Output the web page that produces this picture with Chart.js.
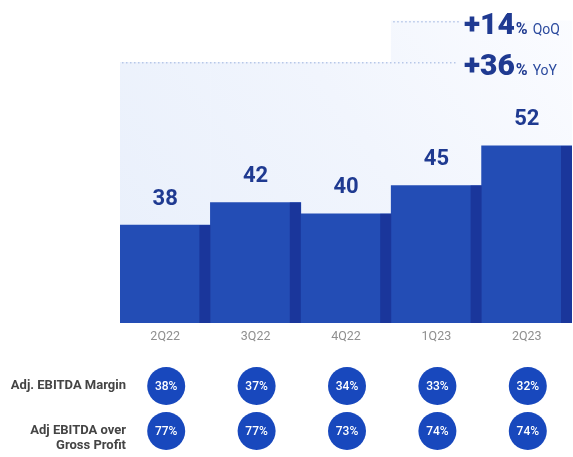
<!DOCTYPE html>
<html>
<head>
<meta charset="utf-8">
<script src="https://cdn.jsdelivr.net/npm/chart.js@4.4.1/dist/chart.umd.min.js"></script>
<style>
  html, body { margin: 0; padding: 0; background: #fff; }
  #wrap { width: 573px; height: 457px; }
</style>
</head>
<body>
<div id="wrap"><canvas id="ebitdaChart" width="573" height="457"></canvas></div>
<script>
// Adj. EBITDA by quarter
const quarters = ["2Q22", "3Q22", "4Q22", "1Q23", "2Q23"];
const adjEbitda = [38, 42, 40, 45, 52];
const ebitdaMargin = [38, 37, 34, 33, 32];
const ebitdaOverGross = [77, 77, 73, 74, 74];
// light backdrop behind the bars (same units as the bars)
const backdropLevel = [66.8, 66.8, 66.8, 74.1, 74.1];
const growthNotes = [
    { value: "+14", unit: "QoQ", level: 74.1 },
    { value: "+36", unit: "YoY", level: 66.8 }
];
const rowLabels = [["Adj. EBITDA Margin"], ["Adj EBITDA over", "Gross Profit"]];

const navy = "#1f3a91";
const barBlue = "#234db5";
const stripBlue = "#1a369b";
const dotBlue = "#1848bd";
const FONT = "Roboto, 'Noto Sans', sans-serif";

function backdropFill(context) {
    const chart = context.chart;
    const area = chart.chartArea;
    if (!area) return "#eef3fc";
    const g = chart.ctx.createLinearGradient(area.left, area.bottom, area.right, area.top);
    g.addColorStop(0, "#e8effb");
    g.addColorStop(0.55, "#f1f5fd");
    g.addColorStop(1, "#fbfcff");
    return g;
}

const decorPlugin = {
    id: "decor",
    afterDatasetsDraw(chart) {
        const ctx = chart.ctx;
        const x = chart.scales.x;
        const y = chart.scales.y;
        const area = chart.chartArea;
        const bars = chart.getDatasetMeta(1).data;
        const backs = chart.getDatasetMeta(0).data;

        ctx.save();

        // darker right edge on each bar
        bars.forEach(b => {
            const right = b.x + b.width / 2;
            const bottom = Math.min(b.base, area.bottom);
            ctx.fillStyle = stripBlue;
            ctx.fillRect(right - 11, b.y, 11, bottom - b.y);
        });

        // values above bars
        ctx.fillStyle = navy;
        ctx.font = "bold 22px " + FONT;
        ctx.textAlign = "center";
        ctx.textBaseline = "middle";
        bars.forEach((b, i) => {
            ctx.fillText(String(adjEbitda[i]), b.x, b.y - 26);
        });

        // dotted guide lines + growth notes
        const noteX = 464;
        ctx.fillStyle = "#b7c7e8";
        growthNotes.forEach(n => {
            const py = Math.round(y.getPixelForValue(n.level));
            const start = backs.find((bk, i) => backdropLevel[i] >= n.level);
            const x0 = start ? start.x - start.width / 2 : x.left;
            for (let px = x0 + 2; px < noteX - 6; px += 4) {
                ctx.fillRect(px, py, 1.5, 1.5);
            }
        });

        ctx.textAlign = "left";
        ctx.textBaseline = "alphabetic";
        growthNotes.forEach(n => {
            const base = y.getPixelForValue(n.level) + 13;
            ctx.fillStyle = navy;
            ctx.font = "900 30px " + FONT;
            ctx.fillText(n.value, noteX, base);
            let cx = noteX + ctx.measureText(n.value).width + 1;
            ctx.font = "bold 16px " + FONT;
            ctx.fillText("%", cx, base);
            cx += ctx.measureText("%").width + 5;
            ctx.font = "14px " + FONT;
            ctx.fillStyle = "#2b4a9e";
            ctx.fillText(n.unit, cx, base);
        });

        // percentage table under the axis
        const rowsY = [386, 431];
        const rowsData = [ebitdaMargin, ebitdaOverGross];
        rowsData.forEach((vals, r) => {
            vals.forEach((v, i) => {
                const cx = x.getPixelForValue(i) + 1;
                ctx.beginPath();
                ctx.arc(cx, rowsY[r], 19, 0, Math.PI * 2);
                ctx.fillStyle = dotBlue;
                ctx.fill();
                ctx.fillStyle = "#ffffff";
                ctx.font = "500 12px " + FONT;
                ctx.textAlign = "center";
                ctx.textBaseline = "middle";
                ctx.fillText(v + "%", cx, rowsY[r] + 1);
            });
        });

        ctx.fillStyle = "#444444";
        ctx.font = "bold 13px " + FONT;
        ctx.textAlign = "right";
        ctx.textBaseline = "middle";
        ctx.fillText(rowLabels[0][0], 126, 386);
        ctx.fillText(rowLabels[1][0], 126, 431);
        ctx.fillText(rowLabels[1][1], 126, 446);

        ctx.restore();
    }
};

new Chart(document.getElementById("ebitdaChart"), {
    type: "bar",
    data: {
        labels: quarters,
        datasets: [
            {
                label: "backdrop",
                data: backdropLevel,
                backgroundColor: backdropFill,
                borderWidth: 0,
                grouped: false,
                order: 2,
                barPercentage: 1,
                categoryPercentage: 1
            },
            {
                label: "Adj. EBITDA",
                data: adjEbitda,
                backgroundColor: barBlue,
                borderWidth: 0,
                grouped: false,
                order: 1,
                barPercentage: 1,
                categoryPercentage: 1
            }
        ]
    },
    options: {
        responsive: false,
        animation: false,
        layout: { padding: { left: 120, right: 1, top: 0, bottom: 0 } },
        plugins: {
            legend: { display: false },
            tooltip: { enabled: false }
        },
        scales: {
            x: {
                grid: { display: false, drawTicks: false },
                border: { display: false },
                ticks: {
                    color: "#8f8f8f",
                    padding: 6,
                    font: { family: FONT, size: 12.5 }
                },
                afterFit: s => { s.height = 134; }
            },
            y: {
                display: false,
                min: 20.7,
                max: 77.8
            }
        }
    },
    plugins: [decorPlugin]
});
</script>
</body>
</html>
